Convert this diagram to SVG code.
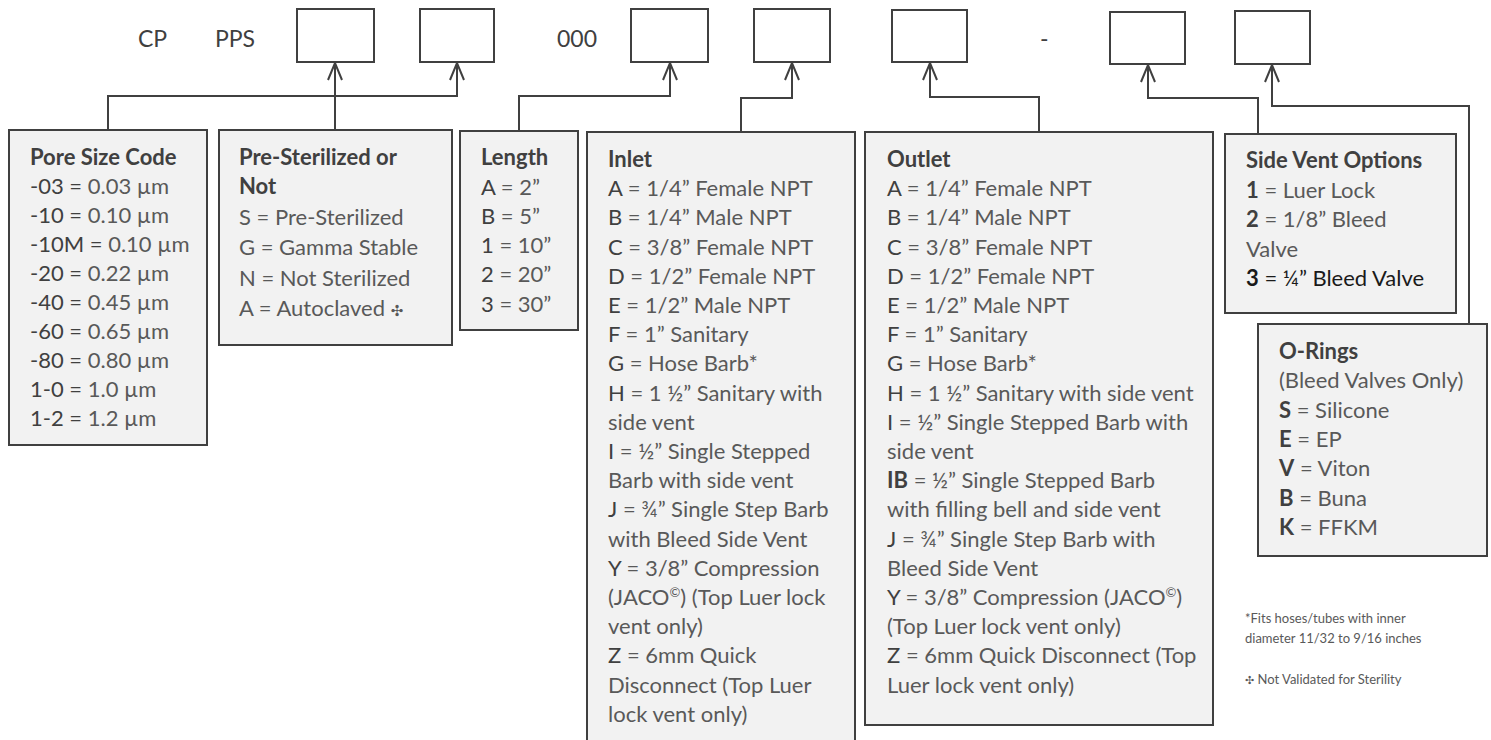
<svg xmlns="http://www.w3.org/2000/svg" width="1491" height="740" viewBox="0 0 1491 740">
<style>
text{font-family:Lato,"Open Sans","Liberation Sans",sans-serif;}
.top{font-size:23px;fill:#404040;}
.slot{fill:#ffffff;stroke:#404040;stroke-width:2;}
.box{fill:#f2f2f2;stroke:#404040;stroke-width:2;}
.t{font-size:22px;fill:#595959;}
.h{font-weight:bold;fill:#404040;}
.c{fill:#404040;}
.b{font-weight:bold;fill:#404040;}
.k{font-weight:bold;fill:#1a1a1a;}
.dk{fill:#1a1a1a;}
.sym{font-family:"DejaVu Sans",sans-serif;font-size:15px;}
.sup{font-size:13px;}
.fn{font-size:13px;fill:#595959;}
.conn{fill:none;stroke:#404040;stroke-width:2;marker-end:url(#ah);}
</style>
<defs>
<marker id="ah" viewBox="-20 -10 22 20" markerWidth="22" markerHeight="20" refX="0" refY="0" orient="auto" markerUnits="userSpaceOnUse">
<path d="M-17,-7 L0,0 L-17,7" fill="none" stroke="#404040" stroke-width="2"/>
</marker>
</defs>
<rect width="1491" height="740" fill="#ffffff"/>

<g id="code">
<text class="top" x="138" y="47">CP</text>
<text class="top" x="215" y="47">PPS</text>
<text class="top" x="557" y="47">000</text>
<text class="top" x="1040" y="47">-</text>
<rect id="slot1" class="slot" x="297" y="9" width="77" height="53"/>
<rect id="slot2" class="slot" x="420" y="9" width="74" height="53"/>
<rect id="slot3" class="slot" x="631" y="9" width="77" height="53"/>
<rect id="slot4" class="slot" x="754" y="9" width="76" height="53"/>
<rect id="slot5" class="slot" x="892" y="10" width="75" height="52"/>
<rect id="slot6" class="slot" x="1110" y="12" width="75" height="52"/>
<rect id="slot7" class="slot" x="1235" y="11" width="75" height="53"/>
</g>

<g id="connectors">
<path class="conn" d="M108,130 V96 H457 V63"/>
<path class="conn" d="M335,130 V63"/>
<path class="conn" d="M519,131 V96 H670 V63"/>
<path class="conn" d="M741,132 V98 H792 V63"/>
<path class="conn" d="M1039,132 V97 H930 V63"/>
<path class="conn" d="M1258,134 V98 H1148 V65"/>
<path class="conn" d="M1469,324 V106 H1272 V65"/>
</g>

<g id="pore">
<rect class="box" x="9" y="130" width="198" height="315"/>
<text class="t" x="30" y="165"><tspan class="h">Pore Size Code</tspan></text>
<text class="t" x="30" y="194"><tspan class="c">-03 =</tspan> 0.03 µm</text>
<text class="t" x="30" y="223"><tspan class="c">-10 =</tspan> 0.10 µm</text>
<text class="t" x="30" y="252"><tspan class="c">-10M =</tspan> 0.10 µm</text>
<text class="t" x="30" y="281"><tspan class="c">-20 =</tspan> 0.22 µm</text>
<text class="t" x="30" y="310"><tspan class="c">-40 =</tspan> 0.45 µm</text>
<text class="t" x="30" y="339"><tspan class="c">-60 =</tspan> 0.65 µm</text>
<text class="t" x="30" y="368"><tspan class="c">-80 =</tspan> 0.80 µm</text>
<text class="t" x="30" y="397"><tspan class="c">1-0 =</tspan> 1.0 µm</text>
<text class="t" x="30" y="426"><tspan class="c">1-2 =</tspan> 1.2 µm</text>
</g>

<g id="sterile">
<rect class="box" x="219" y="130" width="233" height="215"/>
<text class="t" x="239" y="165"><tspan class="h">Pre-Sterilized or</tspan></text>
<text class="t" x="239" y="194"><tspan class="h">Not</tspan></text>
<text class="t" x="239" y="225">S = Pre-Sterilized</text>
<text class="t" x="239" y="255">G = Gamma Stable</text>
<text class="t" x="239" y="286">N = Not Sterilized</text>
<text class="t" x="239" y="316">A = Autoclaved <tspan class="sym">✣</tspan></text>
</g>

<g id="length">
<rect class="box" x="460" y="131" width="118" height="199"/>
<text class="t" x="481" y="165"><tspan class="h">Length</tspan></text>
<text class="t" x="481" y="195"><tspan class="c">A</tspan> = 2”</text>
<text class="t" x="481" y="224"><tspan class="c">B</tspan> = 5”</text>
<text class="t" x="481" y="253"><tspan class="c">1</tspan> = 10”</text>
<text class="t" x="481" y="282"><tspan class="c">2</tspan> = 20”</text>
<text class="t" x="481" y="312"><tspan class="c">3</tspan> = 30”</text>
</g>

<g id="inlet">
<rect class="box" x="587" y="132" width="268" height="620"/>
<text class="t" x="608" y="167"><tspan class="h">Inlet</tspan></text>
<text class="t" x="608" y="196"><tspan class="c">A</tspan> = 1/4” Female NPT</text>
<text class="t" x="608" y="225"><tspan class="c">B</tspan> = 1/4” Male NPT</text>
<text class="t" x="608" y="255"><tspan class="c">C</tspan> = 3/8” Female NPT</text>
<text class="t" x="608" y="284"><tspan class="c">D</tspan> = 1/2” Female NPT</text>
<text class="t" x="608" y="313"><tspan class="c">E</tspan> = 1/2” Male NPT</text>
<text class="t" x="608" y="342"><tspan class="c">F</tspan> = 1” Sanitary</text>
<text class="t" x="608" y="371"><tspan class="c">G</tspan> = Hose Barb*</text>
<text class="t" x="608" y="401"><tspan class="c">H</tspan> = 1 ½” Sanitary with</text>
<text class="t" x="608" y="430">side vent</text>
<text class="t" x="608" y="459"><tspan class="c">I</tspan> = ½” Single Stepped</text>
<text class="t" x="608" y="488">Barb with side vent</text>
<text class="t" x="608" y="517"><tspan class="c">J</tspan> = ¾” Single Step Barb</text>
<text class="t" x="608" y="547">with Bleed Side Vent</text>
<text class="t" x="608" y="576"><tspan class="c">Y</tspan> = 3/8” Compression</text>
<text class="t" x="608" y="605">(JACO<tspan class="sup" dy="-8">©</tspan><tspan dy="8">) (Top Luer lock</tspan></text>
<text class="t" x="608" y="634">vent only)</text>
<text class="t" x="608" y="663"><tspan class="c">Z</tspan> = 6mm Quick</text>
<text class="t" x="608" y="693">Disconnect (Top Luer</text>
<text class="t" x="608" y="722">lock vent only)</text>
</g>

<g id="outlet">
<rect class="box" x="865" y="132" width="348" height="593"/>
<text class="t" x="887" y="167"><tspan class="h">Outlet</tspan></text>
<text class="t" x="887" y="196"><tspan class="c">A</tspan> = 1/4” Female NPT</text>
<text class="t" x="887" y="225"><tspan class="c">B</tspan> = 1/4” Male NPT</text>
<text class="t" x="887" y="255"><tspan class="c">C</tspan> = 3/8” Female NPT</text>
<text class="t" x="887" y="284"><tspan class="c">D</tspan> = 1/2” Female NPT</text>
<text class="t" x="887" y="313"><tspan class="c">E</tspan> = 1/2” Male NPT</text>
<text class="t" x="887" y="342"><tspan class="c">F</tspan> = 1” Sanitary</text>
<text class="t" x="887" y="371"><tspan class="c">G</tspan> = Hose Barb*</text>
<text class="t" x="887" y="401"><tspan class="c">H</tspan> = 1 ½” Sanitary with side vent</text>
<text class="t" x="887" y="430"><tspan class="c">I</tspan> = ½” Single Stepped Barb with</text>
<text class="t" x="887" y="459">side vent</text>
<text class="t" x="887" y="488"><tspan class="b">IB</tspan> = ½” Single Stepped Barb</text>
<text class="t" x="887" y="517">with filling bell and side vent</text>
<text class="t" x="887" y="547"><tspan class="c">J</tspan> = ¾” Single Step Barb with</text>
<text class="t" x="887" y="576">Bleed Side Vent</text>
<text class="t" x="887" y="605"><tspan class="c">Y</tspan> = 3/8” Compression (JACO<tspan class="sup" dy="-8">©</tspan><tspan dy="8">)</tspan></text>
<text class="t" x="887" y="634">(Top Luer lock vent only)</text>
<text class="t" x="887" y="663"><tspan class="c">Z</tspan> = 6mm Quick Disconnect (Top</text>
<text class="t" x="887" y="693">Luer lock vent only)</text>
</g>

<g id="sidevent">
<rect class="box" x="1225" y="134" width="231" height="179"/>
<text class="t" x="1246" y="168"><tspan class="h">Side Vent Options</tspan></text>
<text class="t" x="1246" y="198"><tspan class="b">1</tspan> = Luer Lock</text>
<text class="t" x="1246" y="227"><tspan class="b">2</tspan> = 1/8” Bleed</text>
<text class="t" x="1246" y="257">Valve</text>
<text class="t dk" x="1246" y="286"><tspan class="k">3</tspan> = ¼” Bleed Valve</text>
</g>

<g id="orings">
<rect class="box" x="1258" y="324" width="229" height="232"/>
<text class="t" x="1279" y="359"><tspan class="h">O-Rings</tspan></text>
<text class="t" x="1279" y="388">(Bleed Valves Only)</text>
<text class="t" x="1279" y="418"><tspan class="b">S</tspan> = Silicone</text>
<text class="t" x="1279" y="447"><tspan class="b">E</tspan> = EP</text>
<text class="t" x="1279" y="476"><tspan class="b">V</tspan> = Viton</text>
<text class="t" x="1279" y="506"><tspan class="b">B</tspan> = Buna</text>
<text class="t" x="1279" y="535"><tspan class="b">K</tspan> = FFKM</text>
</g>

<g id="notes">
<text class="fn" x="1245" y="623">*Fits hoses/tubes with inner</text>
<text class="fn" x="1245" y="643">diameter 11/32 to 9/16 inches</text>
<text class="fn" x="1245" y="684"><tspan class="sym" style="font-size:11px">✣</tspan> Not Validated for Sterility</text>
</g>
</svg>
